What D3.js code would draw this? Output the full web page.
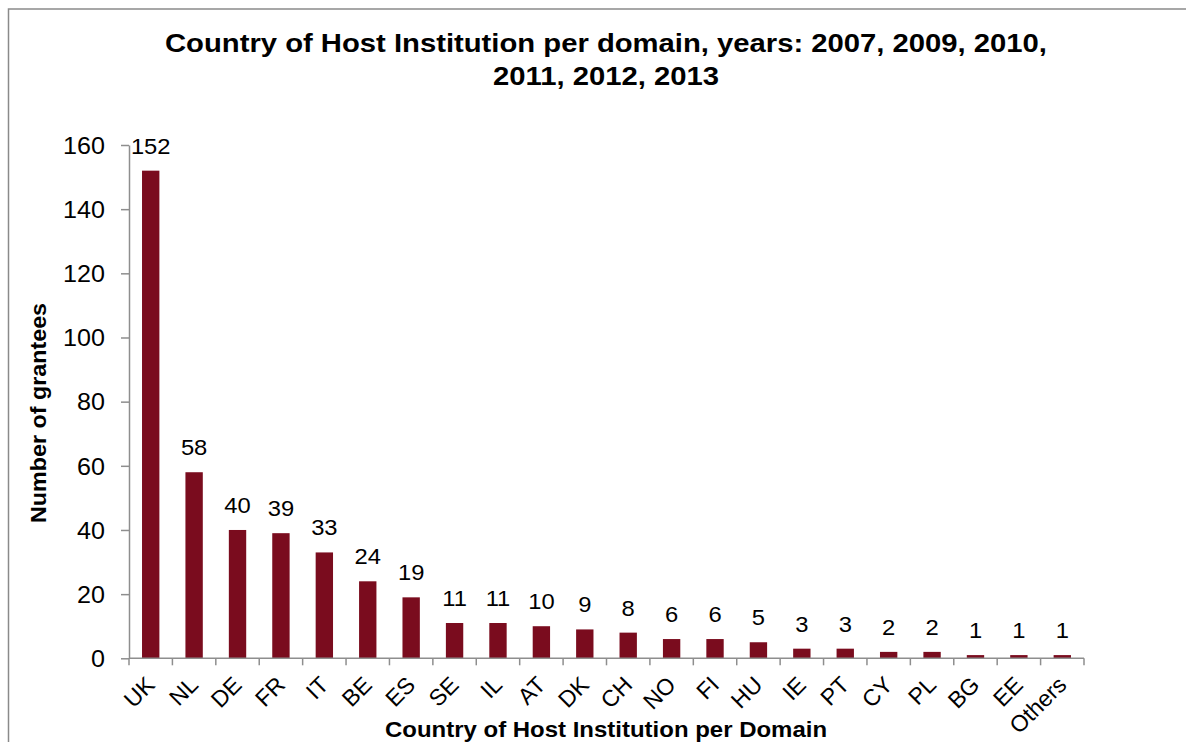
<!DOCTYPE html>
<html>
<head>
<meta charset="utf-8">
<script src="https://cdn.jsdelivr.net/npm/d3@7"></script>
<style>
  html, body { margin: 0; padding: 0; background: #fff; }
  svg { display: block; font-family: "Liberation Sans", Arial, sans-serif; }
</style>
</head>
<body>
<svg id="chart" width="1186" height="742"></svg>
<script>
// Grantees per country of host institution
const countries = ["UK", "NL", "DE", "FR", "IT", "BE", "ES", "SE", "IL", "AT", "DK",
                   "CH", "NO", "FI", "HU", "IE", "PT", "CY", "PL", "BG", "EE", "Others"];
const grantees = [152, 58, 40, 39, 33, 24, 19, 11, 11, 10, 9, 8, 6, 6, 5, 3, 3, 2, 2, 1, 1, 1];
const yTicks = [0, 20, 40, 60, 80, 100, 120, 140, 160];

const titleLines = ["Country of Host Institution per domain, years: 2007, 2009, 2010,",
                    "2011, 2012, 2013"];
const xTitle = "Country of Host Institution per Domain";
const yTitle = "Number of grantees";

const data = countries.map((c, i) => ({ country: c, value: grantees[i] }));

const svg = d3.select("#chart");
const W = 1186, H = 742;
const plot = { left: 129, right: 1084, top: 145, bottom: 658.3 };
const barColor = "#7a0c1e";
const axisColor = "#8e8e8e";

// text placed at an anchor point, optionally rotated, with a slight horizontal widening
function placeText(sel, ax, ay, sx, rot) {
  return sel.attr("x", 0).attr("y", 0)
    .attr("transform", `translate(${ax},${ay})${rot ? ` rotate(${rot})` : ""} scale(${sx},1)`);
}

// chart frame
svg.append("rect")
  .attr("x", 8.5).attr("y", 9)
  .attr("width", W + 40).attr("height", H + 40)
  .attr("fill", "none")
  .attr("stroke", "#8a8a8a")
  .attr("stroke-width", 1.5);

const x = d3.scaleBand()
  .domain(countries)
  .range([plot.left, plot.right])
  .paddingInner(0.6)
  .paddingOuter(0.3);

const y = d3.scaleLinear()
  .domain([0, 160])
  .range([plot.bottom, plot.top]);

// title
titleLines.forEach((t, i) => {
  svg.append("text")
    .call(placeText, 606, 52 + i * 33, 1.17)
    .attr("text-anchor", "middle")
    .attr("font-weight", "bold")
    .attr("font-size", 25)
    .attr("fill", "#000")
    .text(t);
});

// bars
svg.append("g").selectAll("rect")
  .data(data)
  .join("rect")
  .attr("x", d => x(d.country))
  .attr("y", d => y(d.value))
  .attr("width", x.bandwidth())
  .attr("height", d => y(0) - y(d.value))
  .attr("fill", barColor);

// value labels
svg.append("g").selectAll("text")
  .data(data)
  .join("text")
  .each(function (d) {
    placeText(d3.select(this), x(d.country) + x.bandwidth() / 2, y(d.value) - 17, 1.08);
  })
  .attr("text-anchor", "middle")
  .attr("font-size", 22)
  .attr("fill", "#000")
  .text(d => d.value);

// y axis
const yAxis = d3.axisLeft(y).tickValues(yTicks).tickSize(8).tickSizeOuter(0).tickPadding(16);
const gy = svg.append("g")
  .attr("transform", `translate(${plot.left},0)`)
  .call(yAxis);
gy.select(".domain").attr("stroke", axisColor).attr("stroke-width", 1.5);
gy.selectAll(".tick line").attr("stroke", axisColor).attr("stroke-width", 1.5);
gy.selectAll(".tick text")
  .attr("font-size", 23.5)
  .attr("font-family", "\"Liberation Sans\", Arial, sans-serif")
  .attr("fill", "#000")
  .each(function () {
    placeText(d3.select(this), -24, 0, 1.07).attr("dy", "0.35em");
  });

// x axis: line and tick marks between categories
const gx = svg.append("g");
gx.append("line")
  .attr("x1", plot.left).attr("x2", plot.right)
  .attr("y1", y(0)).attr("y2", y(0))
  .attr("stroke", axisColor).attr("stroke-width", 1.5);
const boundaries = d3.range(countries.length + 1).map(i => plot.left + i * x.step());
gx.selectAll("line.tick")
  .data(boundaries)
  .join("line")
  .attr("class", "tick")
  .attr("x1", d => d).attr("x2", d => d)
  .attr("y1", y(0)).attr("y2", y(0) + 7)
  .attr("stroke", axisColor).attr("stroke-width", 1.5);

// rotated category labels
gx.selectAll("text")
  .data(countries)
  .join("text")
  .attr("transform", d => `translate(${x(d) + x.bandwidth() / 2 + 5.5},${y(0) + 28}) rotate(-45)`)
  .attr("text-anchor", "end")
  .attr("font-size", 23)
  .attr("fill", "#000")
  .text(d => d);

// axis titles
svg.append("text")
  .call(placeText, 606, 736.5, 1.09)
  .attr("text-anchor", "middle")
  .attr("font-weight", "bold")
  .attr("font-size", 22)
  .attr("fill", "#000")
  .text(xTitle);

svg.append("text")
  .call(placeText, 45.5, 413, 1.06, -90)
  .attr("text-anchor", "middle")
  .attr("font-weight", "bold")
  .attr("font-size", 22)
  .attr("fill", "#000")
  .text(yTitle);
</script>
</body>
</html>
